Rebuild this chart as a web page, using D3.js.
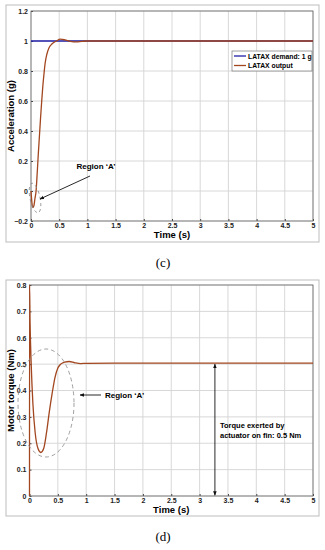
<!DOCTYPE html>
<html>
<head>
<meta charset="utf-8">
<script src="https://cdn.jsdelivr.net/npm/d3@7"></script>
<style>
  body { margin: 0; background: #fff; }
  text { font-family: "Liberation Sans", Arial, sans-serif; }
</style>
</head>
<body>
<div id="chart"></div>
<script>
// Panel (c): LATAX demand and output
const latTime = [0, 0.01, 0.02, 0.03, 0.05, 0.07, 0.09, 0.11, 0.13, 0.15, 0.17, 0.19, 0.21, 0.23, 0.25, 0.28, 0.32, 0.37, 0.45, 0.52, 0.6, 0.7, 0.8, 0.9, 1.0, 1.2, 2, 3, 4, 5];
const latOutput = [0, -0.05, -0.09, -0.11, -0.10, -0.05, 0.0, 0.12, 0.25, 0.37, 0.49, 0.60, 0.70, 0.78, 0.85, 0.91, 0.955, 0.98, 1.0, 1.012, 1.008, 0.998, 0.994, 0.997, 1.0, 1.0, 1.0, 1.0, 1.0, 1.0];
const latDemand = [1, 1];
const latDemandTime = [0, 5];
const latTicksY = [-0.2, 0, 0.2, 0.4, 0.6, 0.8, 1, 1.2];

// Panel (d): motor torque
const trqTime = [0, 0.001, 0.01, 0.03, 0.06, 0.1, 0.15, 0.2, 0.25, 0.3, 0.35, 0.4, 0.45, 0.5, 0.55, 0.62, 0.7, 0.8, 0.9, 1.0, 1.5, 2, 3, 4, 5];
const trqValue = [0, 0.8, 0.66, 0.5, 0.35, 0.24, 0.18, 0.165, 0.18, 0.24, 0.32, 0.39, 0.45, 0.485, 0.5, 0.508, 0.51, 0.505, 0.502, 0.503, 0.504, 0.504, 0.504, 0.504, 0.504];
const trqTicksY = [0, 0.1, 0.2, 0.3, 0.4, 0.5, 0.6, 0.7, 0.8];

const timeTicks = [0, 0.5, 1, 1.5, 2, 2.5, 3, 3.5, 4, 4.5, 5];

const blue = '#1f1fa8';
const brown = '#a2461f';

const svg = d3.select('#chart').append('svg')
  .attr('width', 325)
  .attr('height', 550);

// arrow heads
const defs = svg.append('defs');
defs.append('marker')
  .attr('id', 'arr')
  .attr('viewBox', '0 0 10 10')
  .attr('refX', 9).attr('refY', 5)
  .attr('markerWidth', 5).attr('markerHeight', 5)
  .attr('orient', 'auto-start-reverse')
  .append('path')
  .attr('d', 'M0,1 L10,5 L0,9 Z')
  .attr('fill', '#111');

function drawPanel(cfg) {
  // outer figure box
  svg.append('rect')
    .attr('x', cfg.box[0]).attr('y', cfg.box[1])
    .attr('width', cfg.box[2]).attr('height', cfg.box[3])
    .attr('fill', 'none')
    .attr('stroke', '#bdbdbd')
    .attr('stroke-width', 1);

  const x = d3.scaleLinear().domain([0, 5]).range([cfg.left, cfg.right]);
  const y = d3.scaleLinear().domain(cfg.yDomain).range([cfg.bottom, cfg.top]);
  const g = svg.append('g');

  // grid
  g.selectAll('.vg').data(timeTicks).enter().append('line')
    .attr('x1', d => x(d)).attr('x2', d => x(d))
    .attr('y1', cfg.top).attr('y2', cfg.bottom)
    .attr('stroke', '#d4d4d4').attr('stroke-width', 0.9);
  g.selectAll('.hg').data(cfg.yTicks).enter().append('line')
    .attr('x1', cfg.left).attr('x2', cfg.right)
    .attr('y1', d => y(d)).attr('y2', d => y(d))
    .attr('stroke', '#d4d4d4').attr('stroke-width', 0.9);

  // axes (ticks inside like MATLAB)
  const xAxis = g.append('g')
    .attr('transform', `translate(0,${cfg.bottom})`)
    .call(d3.axisBottom(x).tickValues(timeTicks).tickSizeInner(-2).tickSizeOuter(0).tickPadding(2)
      .tickFormat(d3.format('')));
  const yAxis = g.append('g')
    .attr('transform', `translate(${cfg.left},0)`)
    .call(d3.axisLeft(y).tickValues(cfg.yTicks).tickSizeInner(-2).tickSizeOuter(0).tickPadding(3)
      .tickFormat(d3.format('')));
  [xAxis, yAxis].forEach(a => {
    a.select('.domain').remove();
    a.selectAll('line').attr('stroke', '#444');
    a.selectAll('text')
      .style('font-size', '7px')
      .style('font-weight', 'bold')
      .attr('fill', '#222');
  });

  // frame
  g.append('rect')
    .attr('x', cfg.left).attr('y', cfg.top)
    .attr('width', cfg.right - cfg.left).attr('height', cfg.bottom - cfg.top)
    .attr('fill', 'none').attr('stroke', '#666').attr('stroke-width', 0.8);

  // labels
  g.append('text')
    .attr('x', (cfg.left + cfg.right) / 2)
    .attr('y', cfg.bottom + 17)
    .attr('text-anchor', 'middle')
    .style('font-size', '9.5px').style('font-weight', 'bold')
    .text('Time (s)');
  g.append('text')
    .attr('transform', `translate(14,${(cfg.top + cfg.bottom) / 2}) rotate(-90)`)
    .attr('text-anchor', 'middle')
    .style('font-size', '9.5px').style('font-weight', 'bold')
    .text(cfg.yLabel);
  svg.append('text')
    .attr('x', 163).attr('y', cfg.caption)
    .attr('text-anchor', 'middle')
    .style('font-family', '"Liberation Serif", "DejaVu Serif", serif')
    .style('font-size', '13px')
    .text(cfg.captionText);

  return { x, y, g };
}

// ---------- panel (c) ----------
const p1 = drawPanel({
  box: [6, 5, 313, 237],
  left: 31, right: 313, top: 11, bottom: 221,
  yDomain: [-0.2, 1.2], yTicks: latTicksY,
  yLabel: 'Acceleration (g)',
  caption: 267, captionText: '(c)'
});

const line1 = d3.line().x(d => p1.x(d[0])).y(d => p1.y(d[1]));
p1.g.append('path')
  .attr('d', line1(latDemandTime.map((t, i) => [t, latDemand[i]])))
  .attr('fill', 'none').attr('stroke', blue).attr('stroke-width', 1.3);
p1.g.append('path')
  .attr('d', d3.line().curve(d3.curveMonotoneX).x(d => p1.x(d[0])).y(d => p1.y(d[1]))(latTime.map((t, i) => [t, latOutput[i]])))
  .attr('fill', 'none').attr('stroke', brown).attr('stroke-width', 1.3);

// legend
const leg = p1.g.append('g');
leg.append('rect')
  .attr('x', 232).attr('y', 51).attr('width', 80).attr('height', 20)
  .attr('fill', '#fff').attr('stroke', '#777').attr('stroke-width', 0.7);
[['LATAX demand: 1 g', blue], ['LATAX output', brown]].forEach((e, i) => {
  leg.append('line')
    .attr('x1', 234).attr('x2', 246)
    .attr('y1', 56 + i * 9.5).attr('y2', 56 + i * 9.5)
    .attr('stroke', e[1]).attr('stroke-width', 1.3);
  leg.append('text')
    .attr('x', 248).attr('y', 58.5 + i * 9.5)
    .style('font-size', '6.8px').style('font-weight', 'bold')
    .text(e[0]);
});

// region A annotation (c)
p1.g.append('ellipse')
  .attr('cx', 35).attr('cy', 198).attr('rx', 5).attr('ry', 15)
  .attr('transform', 'rotate(-12,35,198)')
  .attr('fill', 'none').attr('stroke', '#888').attr('stroke-width', 0.8)
  .attr('stroke-dasharray', '3,3');
p1.g.append('line')
  .attr('x1', 90).attr('y1', 176).attr('x2', 40).attr('y2', 199)
  .attr('stroke', '#111').attr('stroke-width', 0.9)
  .attr('marker-end', 'url(#arr)');
p1.g.append('text')
  .attr('x', 96).attr('y', 169)
  .attr('text-anchor', 'middle')
  .style('font-size', '8px').style('font-weight', 'bold')
  .text('Region \u2018A\u2019');

// ---------- panel (d) ----------
const p2 = drawPanel({
  box: [6, 280, 313, 236],
  left: 29.5, right: 313, top: 285, bottom: 496,
  yDomain: [0, 0.8], yTicks: trqTicksY,
  yLabel: 'Motor torque (Nm)',
  caption: 541, captionText: '(d)'
});

p2.g.append('path')
  .attr('d', d3.line().curve(d3.curveMonotoneX).x(d => p2.x(d[0])).y(d => p2.y(d[1]))(trqTime.map((t, i) => [t, trqValue[i]])))
  .attr('fill', 'none').attr('stroke', brown).attr('stroke-width', 1.3);

p2.g.append('ellipse')
  .attr('cx', 46).attr('cy', 403).attr('rx', 28).attr('ry', 54)
  .attr('fill', 'none').attr('stroke', '#888').attr('stroke-width', 0.8)
  .attr('stroke-dasharray', '4,3');
p2.g.append('line')
  .attr('x1', 101).attr('y1', 395).attr('x2', 80).attr('y2', 395)
  .attr('stroke', '#111').attr('stroke-width', 0.9)
  .attr('marker-end', 'url(#arr)');
p2.g.append('text')
  .attr('x', 105).attr('y', 398)
  .style('font-size', '8px').style('font-weight', 'bold')
  .text('Region \u2018A\u2019');

// torque double arrow
p2.g.append('line')
  .attr('x1', p2.x(3.27)).attr('x2', p2.x(3.27))
  .attr('y1', p2.y(0.5)).attr('y2', p2.y(0.003))
  .attr('stroke', '#111').attr('stroke-width', 0.9)
  .attr('marker-start', 'url(#arr)').attr('marker-end', 'url(#arr)');
['Torque exerted by', 'actuator on fin: 0.5 Nm'].forEach((s, i) => {
  p2.g.append('text')
    .attr('x', 220).attr('y', 428 + i * 9.5)
    .style('font-size', '7.5px').style('font-weight', 'bold')
    .text(s);
});
</script>
</body>
</html>
